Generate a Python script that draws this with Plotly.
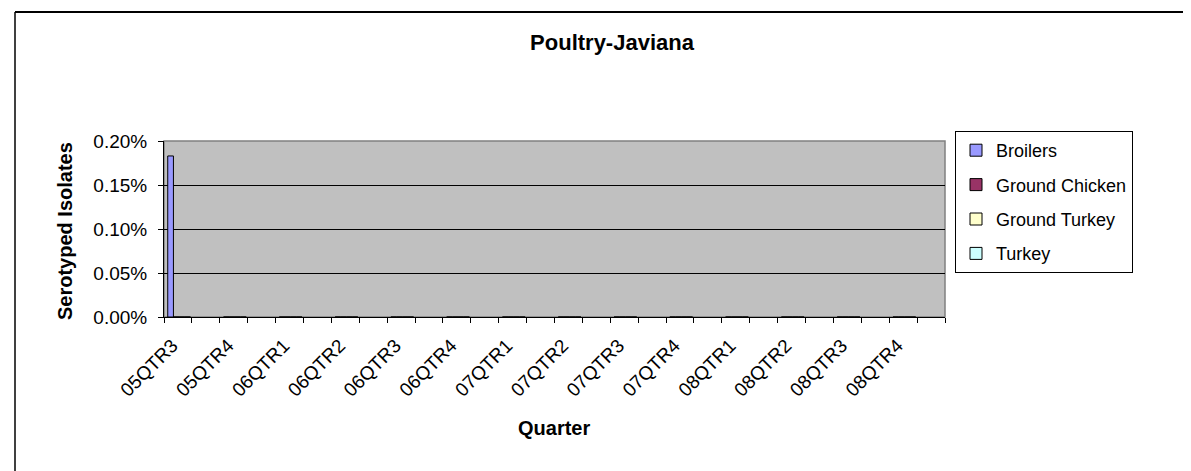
import plotly.graph_objects as go

quarters = ["05QTR3", "05QTR4", "06QTR1", "06QTR2", "06QTR3", "06QTR4", "07QTR1",
            "07QTR2", "07QTR3", "07QTR4", "08QTR1", "08QTR2", "08QTR3", "08QTR4"]
broilers = [0.00183, 0, 0, 0, 0, 0, 0, 0, 0, 0, 0, 0, 0, 0]
ground_chicken = [0, 0, 0, 0, 0, 0, 0, 0, 0, 0, 0, 0, 0, 0]
ground_turkey = [0, 0, 0, 0, 0, 0, 0, 0, 0, 0, 0, 0, 0, 0]
turkey = [0, 0, 0, 0, 0, 0, 0, 0, 0, 0, 0, 0, 0, 0]
series_names = ["Broilers", "Ground Chicken", "Ground Turkey", "Turkey"]
colors = ["#9999FF", "#993366", "#FFFFCC", "#CCFFFF"]

W, H = 1191, 471
L, R, T, B = 156, 254, 133, 162
pw, ph = W - L - R, H - T - B

def px(x):
    return (x - L) / pw

def py(y):
    return (H - B - y) / ph

FONT = "Liberation Sans, Arial, sans-serif"

xpos = [2 * i for i in range(len(quarters))]
bw = 0.204
fig = go.Figure()
for k, (name, vals, col) in enumerate(zip(series_names, [broilers, ground_chicken, ground_turkey, turkey], colors)):
    fig.add_trace(go.Bar(
        x=xpos, y=vals, name=name, width=bw, offset=-0.366 + k * bw,
        marker=dict(color=col, line=dict(color="black", width=1)),
        legendgroup=name,
    ))

fig.update_layout(
    width=W, height=H,
    margin=dict(l=L, r=R, t=T, b=B, pad=0),
    paper_bgcolor="white", plot_bgcolor="#C0C0C0",
    barmode="overlay",
    font=dict(family=FONT, size=19, color="black"),
    title=dict(text="<b>Poultry-Javiana</b>", x=px(604), xref="paper", xanchor="center",
               y=1 - 34 / H, yref="container", yanchor="middle",
               font=dict(family=FONT, size=22, color="black")),
    showlegend=True,
    legend=dict(x=px(947), y=py(123), xanchor="left", yanchor="top",
                bordercolor="black", borderwidth=1, bgcolor="white",
                font=dict(family=FONT, size=18), traceorder="grouped",
                tracegroupgap=8),
    xaxis=dict(range=[-0.5, 27.5], tickvals=[p - 0.2 for p in xpos], ticktext=quarters,
               tickangle=-45, ticks="", showgrid=False, zeroline=False, showline=True,
               linecolor="black", linewidth=1, ticklabelstandoff=9,
               tickfont=dict(family=FONT, size=19),
               minor=dict(tick0=-0.5, dtick=1, ticks="outside", ticklen=5,
                          tickcolor="black", tickwidth=1, showgrid=False)),
    yaxis=dict(range=[0, 0.002], dtick=0.0005, tickformat=".2%", ticks="outside",
               ticklen=5, tickcolor="black", showgrid=True, gridcolor="black",
               gridwidth=1, zeroline=False, showline=True, linecolor="black",
               linewidth=1, ticklabelstandoff=7, tickfont=dict(family=FONT, size=19)),
    shapes=[
        dict(type="rect", xref="paper", yref="paper", x0=0, x1=1, y0=0, y1=1,
             line=dict(color="#808080", width=1.5), layer="below"),
        dict(type="line", xref="paper", yref="paper", x0=px(7), x1=px(W + 5),
             y0=py(4), y1=py(4), line=dict(color="black", width=2)),
        dict(type="line", xref="paper", yref="paper", x0=px(7), x1=px(7),
             y0=py(4), y1=py(H + 5), line=dict(color="black", width=1.5)),
    ],
    annotations=[
        dict(text="<b>Serotyped Isolates</b>", x=px(57), y=py(223), xref="paper", yref="paper",
             textangle=-90, showarrow=False, xanchor="center", yanchor="middle",
             font=dict(family=FONT, size=20)),
        dict(text="<b>Quarter</b>", x=px(546), y=py(420), xref="paper", yref="paper",
             showarrow=False, xanchor="center", yanchor="middle",
             font=dict(family=FONT, size=20)),
    ],
)

fig.write_html("out.html")
